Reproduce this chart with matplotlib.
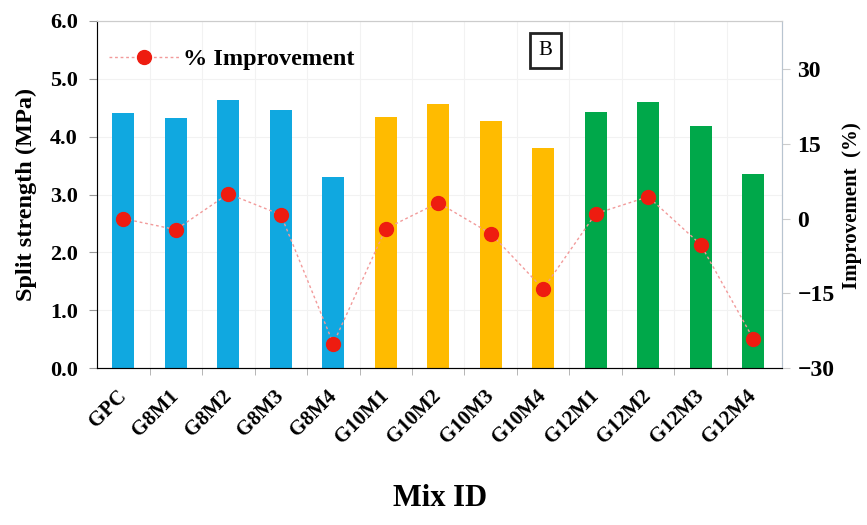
import matplotlib.pyplot as plt
from matplotlib.lines import Line2D
from matplotlib.transforms import ScaledTranslation
import numpy as np

plt.rcParams['font.family'] = 'Liberation Serif'
plt.rcParams['font.weight'] = 'bold'

mixes = ['GPC', 'G8M1', 'G8M2', 'G8M3', 'G8M4', 'G10M1', 'G10M2', 'G10M3',
         'G10M4', 'G12M1', 'G12M2', 'G12M3', 'G12M4']
split_strength = [4.41, 4.32, 4.64, 4.46, 3.30, 4.34, 4.57, 4.27, 3.81,
                  4.43, 4.60, 4.19, 3.36]
improvement = [0.0, -2.2, 5.0, 0.8, -25.1, -2.0, 3.2, -3.0, -14.1,
               1.0, 4.4, -5.2, -24.1]
bar_colors = ['#10a8e0'] * 5 + ['#ffbb00'] * 4 + ['#00a84a'] * 4

x = np.arange(len(mixes))

fig = plt.figure(figsize=(8.67, 5.25), dpi=100)
ax = fig.add_axes([0.112, 0.299, 0.790, 0.661])

ax.bar(x, split_strength, width=0.42, color=bar_colors, zorder=2)
ax.set_xlim(-0.5, 12.55)
ax.set_ylim(0, 6.0)
yt = np.arange(0, 6.1, 1.0)
ax.set_yticks(yt)
ax.set_yticklabels([f'{v:.1f}' for v in yt], fontsize=16)
ax.set_xticks(x)
ax.set_xticklabels(mixes, rotation=45, ha='right', va='center',
                   rotation_mode='anchor', fontsize=15)
shift = ScaledTranslation(3 / 72, 0, fig.dpi_scale_trans)
for lbl in ax.get_xticklabels():
    lbl.set_transform(lbl.get_transform() + shift)
ax.set_xticks(x[:-1] + 0.5, minor=True)
ax.tick_params(axis='x', which='major', length=0, pad=18)
ax.tick_params(axis='x', which='minor', length=5, direction='out', color='#aaaaaa')
ax.tick_params(axis='y', length=6, pad=8, direction='out', color='#999999')
ax.grid(True, which='minor', axis='x', color='#f2f2f2', lw=0.8, zorder=0)
ax.grid(True, which='major', axis='y', color='#f2f2f2', lw=0.8, zorder=0)
ax.set_ylabel('Split strength (MPa)', fontsize=17.5, fontweight='bold', labelpad=9)
ax.set_xlabel('Mix ID', fontsize=22, fontweight='bold', labelpad=26)
for side in ['top', 'right']:
    ax.spines[side].set_color('#cccccc')
ax.spines['left'].set_color('#888888')
ax.spines['bottom'].set_color('#666666')

ax2 = ax.twinx()
ax2.plot(x, improvement, color='#f29a9a', ls=(0, (2, 2)), lw=1.0,
         marker='o', ms=10, mfc='#ee1c10', mec='#ee1c10', zorder=3)
ax2.set_ylim(-30, 39.7)
ax2.set_yticks([-30, -15, 0, 15, 30])
ax2.set_yticklabels(['\u221230', '\u221215', '0', '15', '30'], fontsize=17)
ax2.tick_params(axis='y', length=6, pad=5, direction='out', color='#cccccc')
ax2.set_ylabel('Improvement  (%)', fontsize=15, fontweight='bold')
ax2.yaxis.set_label_coords(1.088, 0.467)
ax2.spines['right'].set_color('#b8c4d0')
ax2.spines['top'].set_color('#cccccc')

handle = Line2D([], [], color='#f29a9a', ls=(0, (2, 2)), lw=1.0, marker='o',
                ms=10, mfc='#ee1c10', mec='#ee1c10')
ax.legend([handle], ['% Improvement'], loc='upper left', frameon=False,
          prop={'size': 17.5, 'weight': 'bold'}, bbox_to_anchor=(-0.015, 0.985),
          handlelength=2.9, handletextpad=0.15)

ax.text(0.655, 0.915, 'B', transform=ax.transAxes, fontsize=15, fontweight='normal',
        ha='center', va='center',
        bbox=dict(boxstyle='square,pad=0.4', fc='white', ec='#222222', lw=2))

fig.savefig('out.png', dpi=100)
